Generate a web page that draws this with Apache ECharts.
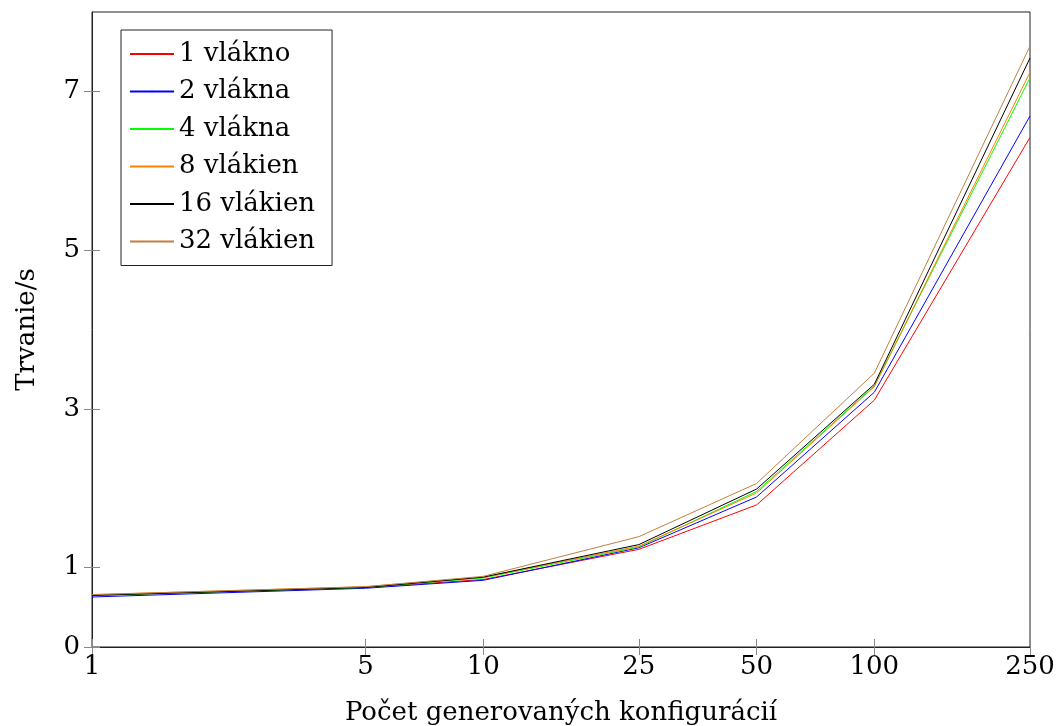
<!DOCTYPE html>
<html>
<head>
<meta charset="utf-8">
<script src="https://cdn.jsdelivr.net/npm/echarts@6/dist/echarts.min.js"></script>
<style>
  html, body { margin: 0; padding: 0; background: #fff; }
  #chart { width: 1057px; height: 726px; }
</style>
</head>
<body>
<div id="chart"></div>
<script>
// pocet konfiguracii (os x, logaritmicka)
const configs = [1, 5, 10, 25, 50, 100, 250]
// trvanie v sekundach pre jednotlive pocty vlakien
const t1 = [0.65, 0.75, 0.85, 1.23, 1.79, 3.11, 6.42]
const t2 = [0.63, 0.74, 0.84, 1.25, 1.89, 3.21, 6.69]
const t4 = [0.65, 0.75, 0.87, 1.26, 1.96, 3.29, 7.17]
const t8 = [0.66, 0.76, 0.88, 1.27, 1.94, 3.28, 7.24]
const t16 = [0.65, 0.75, 0.88, 1.29, 1.99, 3.31, 7.42]
const t32 = [0.66, 0.76, 0.89, 1.39, 2.06, 3.45, 7.57]

const names = ['1 vlákno', '2 vlákna', '4 vlákna', '8 vlákien', '16 vlákien', '32 vlákien']
const colors = ['#ff0000', '#0000ff', '#00ff00', '#ff8000', '#000000', '#bf8040']
const values = [t1, t2, t4, t8, t16, t32]

const yTicks = [0, 1, 3, 5, 7]

const font = 'DejaVu Serif'
const lg = v => Math.log10(v)

const series = names.map((n, i) => ({
  name: n,
  type: 'line',
  symbol: 'none',
  color: colors[i],
  lineStyle: { width: 1, color: colors[i] },
  data: configs.map((c, j) => [lg(c), values[i][j]])
}))

const tickStyle = { show: true, inside: true, length: 8, lineStyle: { color: '#888' } }
const xTickVals = configs.map(lg)

const option = {
  animation: false,
  textStyle: { fontFamily: font },
  grid: {
    left: 92, right: 27, top: 12, bottom: 79,
    outerBoundsMode: 'none',
    containLabel: false,
    show: true, borderColor: '#222', borderWidth: 1
  },
  legend: {
    orient: 'vertical',
    left: 121,
    top: 30,
    padding: [9, 17, 9, 8],
    borderColor: '#222',
    borderWidth: 1,
    backgroundColor: '#fff',
    itemWidth: 44,
    itemHeight: 2,
    itemGap: 7.5,
    textStyle: { fontFamily: font, fontSize: 26, color: '#000', lineHeight: 30 },
    data: names
  },
  xAxis: [{
    type: 'value',
    min: 0,
    max: lg(250),
    name: 'Počet generovaných konfigurácií',
    nameLocation: 'middle',
    nameGap: 53,
    nameTextStyle: { fontFamily: font, fontSize: 26, color: '#000' },
    axisLine: { show: true, lineStyle: { color: '#222' } },
    splitLine: { show: false },
    axisTick: Object.assign({ customValues: xTickVals }, tickStyle),
    axisLabel: {
      customValues: xTickVals,
      margin: 7,
      fontFamily: font, fontSize: 26, color: '#000',
      formatter: v => String(Math.round(Math.pow(10, v)))
    }
  }, {
    type: 'value',
    position: 'top',
    min: 0,
    max: lg(250),
    axisLine: { show: false },
    splitLine: { show: false },
    axisTick: Object.assign({ customValues: xTickVals }, tickStyle),
    axisLabel: { show: false }
  }],
  yAxis: [{
    type: 'value',
    min: 0,
    max: 8,
    name: 'Trvanie/s',
    nameLocation: 'middle',
    nameGap: 52,
    nameTextStyle: { fontFamily: font, fontSize: 26, color: '#000' },
    axisLine: { show: true, lineStyle: { color: '#222' } },
    splitLine: { show: false },
    axisTick: Object.assign({ customValues: yTicks }, tickStyle),
    axisLabel: {
      customValues: yTicks,
      margin: 12,
      fontFamily: font, fontSize: 26, color: '#000'
    }
  }, {
    type: 'value',
    position: 'right',
    min: 0,
    max: 8,
    axisLine: { show: false },
    splitLine: { show: false },
    axisTick: Object.assign({ customValues: yTicks }, tickStyle),
    axisLabel: { show: false }
  }],
  series: series
}

const myChart = echarts.init(document.getElementById('chart'))
myChart.setOption(option)
</script>
</body>
</html>
